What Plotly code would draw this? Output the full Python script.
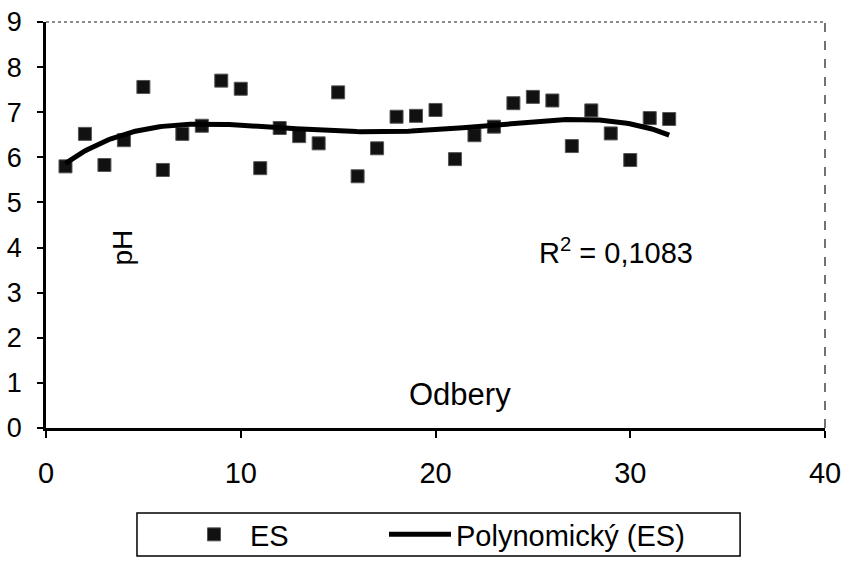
import numpy as np
import plotly.graph_objects as go

# Data
odber = list(range(1, 33))
ph = [5.80, 6.52, 5.83, 6.38, 7.56, 5.72, 6.52, 6.70, 7.70, 7.52,
      5.76, 6.65, 6.47, 6.31, 7.44, 5.58, 6.20, 6.90, 6.92, 7.05,
      5.96, 6.49, 6.68, 7.20, 7.34, 7.26, 6.25, 7.04, 6.53, 5.94,
      6.87, 6.85]
x_ticks = [0, 10, 20, 30, 40]
y_ticks = list(range(0, 10))
r2_label = "R<sup>2</sup> = 0,1083"

# Polynomial trend (4th order) computed from the data
coef = np.polyfit(odber, ph, 4)
xs = np.linspace(min(odber), max(odber), 200)
ys = np.polyval(coef, xs)

FONT = "Arial, Liberation Sans, sans-serif"

fig = go.Figure()
fig.add_trace(go.Scatter(
    x=odber, y=ph, mode="markers", name="ES", legend="legend",
    marker=dict(symbol="square", size=13, color="#111111",
                line=dict(color="#555555", width=1)),
))
fig.add_trace(go.Scatter(
    x=xs, y=ys, mode="lines", name="Polynomický (ES)", legend="legend2",
    line=dict(color="black", width=5),
))

leg_common = dict(orientation="h", xanchor="left", xref="container",
                  yref="container", y=0.1007, yanchor="top",
                  borderwidth=0, bgcolor="rgba(0,0,0,0)",
                  font=dict(size=29), itemwidth=62)

fig.update_layout(
    width=846, height=566,
    margin=dict(l=46, r=21, t=22, b=138),
    paper_bgcolor="white", plot_bgcolor="white",
    font=dict(family=FONT, color="black", size=28),
    showlegend=True,
    legend=dict(x=0.2104, **leg_common),
    legend2=dict(x=0.4539, **leg_common),
    xaxis=dict(
        range=[0, 40], tickvals=x_ticks, showgrid=False, zeroline=False,
        showline=True, linecolor="black", linewidth=2.5, automargin=False,
        ticks="outside", ticklen=7, tickwidth=1.5, tickcolor="black",
        tickfont=dict(size=29), ticklabelstandoff=10,
    ),
    yaxis=dict(
        range=[0, 9], tickvals=y_ticks, showgrid=False, zeroline=False,
        showline=True, linecolor="black", linewidth=2.5, automargin=False,
        ticks="outside", ticklen=6, tickwidth=1.5, tickcolor="black",
        tickfont=dict(size=27), ticklabelstandoff=10,
    ),
    shapes=[
        dict(type="line", xref="paper", yref="paper", x0=0, x1=1, y0=1, y1=1,
             line=dict(color="#666666", width=1.5, dash="dot")),
        dict(type="line", xref="paper", yref="paper", x0=1, x1=1, y0=0, y1=1,
             line=dict(color="#444444", width=1.5, dash="dash")),
        dict(type="rect", xref="paper", yref="paper",
             x0=0.1168, x1=0.891, y0=-0.2094, y1=-0.3153,
             line=dict(color="black", width=1.5)),
    ],
    annotations=[
        dict(x=3.95, y=4.0, text="pH", showarrow=False, textangle=-90,
             font=dict(size=28)),
        dict(x=21.25, y=0.74, text="Odbery", showarrow=False,
             font=dict(size=31)),
        dict(x=29.25, y=3.93, text=r2_label, showarrow=False,
             font=dict(size=29)),
    ],
)

fig.write_html("out.html",
               config={"displayModeBar": False},
               post_script="document.body.style.margin='0';")
